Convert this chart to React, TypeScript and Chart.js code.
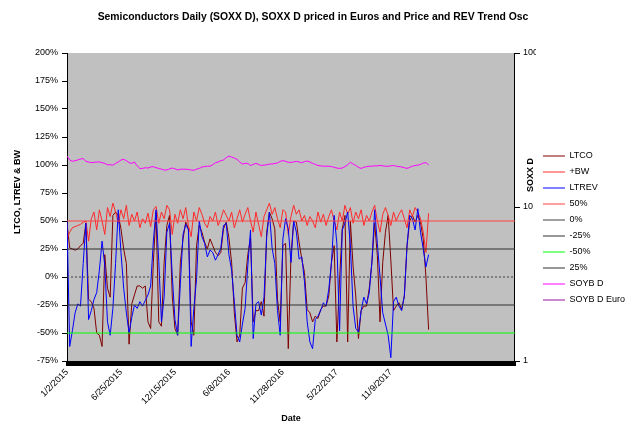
import React, { useEffect, useRef } from "react";
import { Chart, registerables } from "chart.js";

Chart.register(...registerables);

// one sample every 6 trading days; the date axis runs past the last sample
const AXIS_POINTS = 166;
const LABEL_EVERY = 20;

const dateTicks = ["1/2/2015", "6/25/2015", "12/15/2015", "6/8/2016", "11/28/2016", "5/22/2017", "11/9/2017"];

const ltco = [
  48, 26, 25, 24, 25, 28, 30, 48, -20, -22,
  -28, -50, -52, -62, 20, -10, -18, 55, 58, 55,
  43, 25, 12, -60, -24, -16, -8, -8, -10, -8,
  -40, -46, 13, 58, -40, -44, 13, 46, 55, -17,
  -46, -52, 13, 34, 49, 43, -40, -52, 28, 46,
  40, 31, 25, 34, 28, 22, 19, 22, 43, 49,
  35, 13, -32, -58, -52, -10, -5, 20, 35, -40,
  -30, -30, -22, -35, 40, 58, 52, 43, -20, -40,
  28, 30, -64, 20, 50, 49, 31, 16, 4, -29,
  -32, -40, -35, -37, -29, -26, -26, -17, 13, 28,
  -58, -2, 43, 55, -58, 50, 10, -17, -55, -30,
  -26, -26, -10, 13, 48, 19, -40, 13, 40, 55,
  15, -30, -26, -23, -29, -17, 28, 50, 55, 49,
  55, 49, 34, 0, -47,
];

const bw = [
  34, 40, 44, 45, 46, 47, 49, 50, 32, 52,
  58, 42, 60, 50, 38, 62, 54, 66, 58, 48,
  60, 52, 64, 46, 56, 50, 58, 44, 52, 48,
  57, 45, 60, 63, 48, 58, 52, 64, 60, 38,
  56, 48, 60, 52, 62, 46, 36, 58, 50, 62,
  56, 48, 44, 54, 50, 58, 46, 52, 60, 55,
  50, 58, 44, 52, 60, 49, 56, 62, 50, 40,
  58, 47, 36, 54, 60, 66, 56, 62, 52, 44,
  60, 58, 38, 54, 64, 56, 60, 50, 55, 46,
  54, 50, 44, 58, 49, 56, 46, 54, 60, 50,
  42, 58, 50, 64, 56, 62, 48, 58, 52, 60,
  46, 55, 50, 58, 64, 50, 40, 56, 62, 55,
  46, 58, 50, 56, 60, 52, 44, 60, 54, 62,
  58, 52, 40, 22, 57,
];

const ltrev = [
  50, -62, -48, -32, -24, -26, 12, 48, -38, -30,
  -20, -14, 6, 32, 10, -40, -52, -28, 12, 60,
  22, -10, -32, -50, -36, -25, -28, -22, -26, -21,
  -16, -8, 32, 60, 14, -40, -18, 40, 48, 2,
  -38, -52, -6, 38, 47, 42, -62, -28, -2, 50,
  36, 30, 18, 24, 22, 15, 20, 26, 46, 48,
  20, 6, -22, -52, -58, -42, -28, 10, 42, -55,
  -24, -22, -34, -18, 36, 58, 26, 12, -30, -52,
  34, 52, 43, 13, 50, 40, 16, 18, -4, -40,
  -58, -64, -38, -35, -30, -23, -26, -11, 13, 55,
  30, -48, 42, 48, 58, 28, -26, -46, -49, -30,
  -18, -24, -14, 14, 60, 30, 0, -32, -42, -52,
  -72, -22, -18, -26, -30, -17, 28, 55, 52, 42,
  61, 40, 25, 9, 20,
];

const soyb = [
  21.4, 20.2, 19.8, 20.0, 20.2, 20.5, 20.6, 19.8, 19.6, 19.4,
  19.5, 19.6, 19.6, 19.4, 19.2, 18.8, 18.8, 18.7, 19.2, 19.6,
  20.2, 20.4, 20.0, 19.4, 19.2, 19.6, 18.5, 17.8, 17.8, 18.0,
  17.9, 18.2, 18.3, 18.0, 17.8, 17.6, 17.4, 17.4, 17.7, 17.9,
  17.7, 17.4, 17.6, 17.6, 17.6, 17.5, 17.4, 17.3, 17.6, 17.8,
  18.2, 18.3, 18.4, 18.4, 18.8, 19.4, 19.6, 20.0, 20.2, 20.9,
  21.4, 21.1, 20.8, 20.4, 19.6, 19.0, 19.2, 19.2, 18.6, 18.9,
  19.2, 18.9, 18.6, 18.7, 18.8, 19.0, 19.0, 19.2, 19.3, 19.8,
  20.0, 19.8, 19.5, 19.5, 19.6, 19.8, 19.6, 19.4, 19.7, 19.9,
  19.6, 19.2, 18.9, 18.6, 18.5, 18.4, 18.4, 18.4, 18.3, 18.1,
  17.9, 17.8, 17.9, 18.3, 18.8, 19.5, 19.0, 18.6, 18.1, 17.8,
  18.1, 18.3, 18.4, 18.4, 18.5, 18.5, 18.6, 18.5, 18.4, 18.4,
  18.5, 18.6, 18.4, 18.3, 18.2, 18.0, 17.8, 18.1, 18.4, 18.6,
  18.7, 18.9, 19.3, 19.4, 18.8,
];

const soybEuro: number[] = [];

const refNames = ["50%", "0%", "-25%", "-50%", "25%"];
const refValues = [50, 0, -25, -50, 25];

const TITLE = "Semiconductors Daily (SOXX D), SOXX D priced in Euros and Price and REV Trend Osc";
const FONT = "'Liberation Sans', Arial, sans-serif";

const toPoints = (arr: number[]) => arr.map((y, i) => ({ x: i, y }));
const level = (v: number) => [{ x: 0, y: v }, { x: AXIS_POINTS, y: v }];

const series = (label: string, data: any[], color: string, extra: any = {}) => ({
  label,
  data,
  borderColor: color,
  backgroundColor: color,
  borderWidth: 1,
  pointRadius: 0,
  tension: 0,
  yAxisID: "y",
  ...extra,
});

const drawText = (ctx: any, text: string, x: number, y: number, size: number, rotate = false) => {
  ctx.save();
  ctx.translate(x, y);
  if (rotate) ctx.rotate(-Math.PI / 2);
  ctx.font = `bold ${size}px ${FONT}`;
  ctx.fillStyle = "#000";
  ctx.textAlign = "center";
  ctx.textBaseline = "middle";
  ctx.fillText(text, 0, 0);
  ctx.restore();
};

const plotBackground = {
  id: "plotBackground",
  beforeDraw(chart: any) {
    const { ctx, chartArea: a, width, height } = chart;
    ctx.save();
    ctx.fillStyle = "#ffffff";
    ctx.fillRect(0, 0, width, height);
    ctx.fillStyle = "#c0c0c0";
    ctx.fillRect(a.left, a.top, a.right - a.left, a.bottom - a.top);
    ctx.restore();
  },
  afterDraw(chart: any) {
    // titles placed where the original has them, not centred on the axes
    const { ctx, chartArea: a } = chart;
    drawText(ctx, TITLE, 313, 17, 10.4);
    drawText(ctx, "LTCO, LTREV & BW", 18, 192, 9, true);
    drawText(ctx, "SOXX D", a.right + 16, 175, 9, true);
  },
};

export default function App() {
  const canvasRef = useRef<HTMLCanvasElement>(null);

  useEffect(() => {
    const canvas = canvasRef.current;
    if (!canvas) return;

    const refColors = ["#ff4040", "#404040", "#303030", "#00ff00", "#303030"];
    const datasets: any[] = [
      series("LTCO", toPoints(ltco), "#800000"),
      series("+BW", toPoints(bw), "#ff2a2a"),
      series("LTREV", toPoints(ltrev), "#0000ff"),
      ...refNames.map((name, k) =>
        series(name, level(refValues[k]), refColors[k], name === "0%" ? { borderDash: [2, 2] } : {})
      ),
      series("SOYB D", toPoints(soyb), "#ff00ff", { yAxisID: "y2" }),
      series("SOYB D Euro", toPoints(soybEuro), "#cc88cc", { yAxisID: "y2", borderWidth: 2 }),
    ];
    // first series at the bottom, reference lines over the data
    datasets.forEach((d, i) => (d.order = 20 - i));

    const chart = new Chart(canvas, {
      type: "line",
      data: { datasets },
      plugins: [plotBackground],
      options: {
        responsive: false,
        animation: false,
        events: [],
        layout: { padding: { left: 9, right: 5, top: 53, bottom: 0 } },
        font: { family: FONT },
        scales: {
          x: {
            type: "linear",
            min: 0,
            max: AXIS_POINTS,
            ticks: {
              stepSize: 1,
              autoSkip: false,
              maxRotation: 45,
              minRotation: 45,
              padding: 1,
              color: "#000",
              font: { family: FONT, size: 9 },
              callback: (v: any) => {
                const n = Number(v);
                return n % LABEL_EVERY === 0 ? dateTicks[n / LABEL_EVERY] ?? "" : "";
              },
            },
            grid: { drawOnChartArea: false, drawTicks: true, tickLength: 5, lineWidth: 3, color: "#000" },
            border: { color: "#000" },
            title: {
              display: true,
              text: "Date",
              color: "#000",
              font: { family: FONT, size: 9, weight: "bold" },
              padding: { top: 0, bottom: 12 },
            },
            afterFit: (s: any) => {
              s.height = 75;
            },
          },
          y: {
            type: "linear",
            position: "left",
            min: -75,
            max: 200,
            ticks: {
              stepSize: 25,
              padding: 4,
              color: "#000",
              font: { family: FONT, size: 9 },
              callback: (v: any) => `${v}%`,
            },
            grid: { drawOnChartArea: false, tickLength: 5, color: "#000" },
            border: { color: "#000" },
            afterFit: (s: any) => {
              s.width = 58;
            },
          },
          y2: {
            type: "logarithmic",
            position: "right",
            min: 1,
            max: 100,
            ticks: {
              padding: 3,
              color: "#000",
              font: { family: FONT, size: 9 },
              callback: (v: any) => `${v}`,
            },
            afterBuildTicks: (s: any) => {
              s.ticks = s.ticks.filter((t: any) => t.value === 1 || t.value === 10 || t.value === 100);
            },
            grid: { drawOnChartArea: false, tickLength: 5, color: "#000" },
            border: { color: "#000" },
            afterFit: (s: any) => {
              s.width = 21;
            },
          },
        },
        plugins: {
          title: { display: false },
          legend: {
            position: "right",
            align: "start",
            // empty title only pushes the items down to where the original has them
            title: { display: true, text: "", font: { family: FONT, size: 10 }, padding: { top: 79.5, bottom: 0 } },
            labels: {
              usePointStyle: true,
              pointStyle: "line",
              pointStyleWidth: 22,
              padding: 7,
              color: "#000",
              font: { family: FONT, size: 9 },
              sort: (a: any, b: any) => a.datasetIndex - b.datasetIndex,
            },
          },
          tooltip: { enabled: false },
        },
      } as any,
    });

    return () => chart.destroy();
  }, []);

  return (
    <div style={{ position: "fixed", left: 0, top: 0, width: 640, height: 436, background: "#fff" }}>
      <canvas ref={canvasRef} width={640} height={436} style={{ display: "block" }} />
    </div>
  );
}
